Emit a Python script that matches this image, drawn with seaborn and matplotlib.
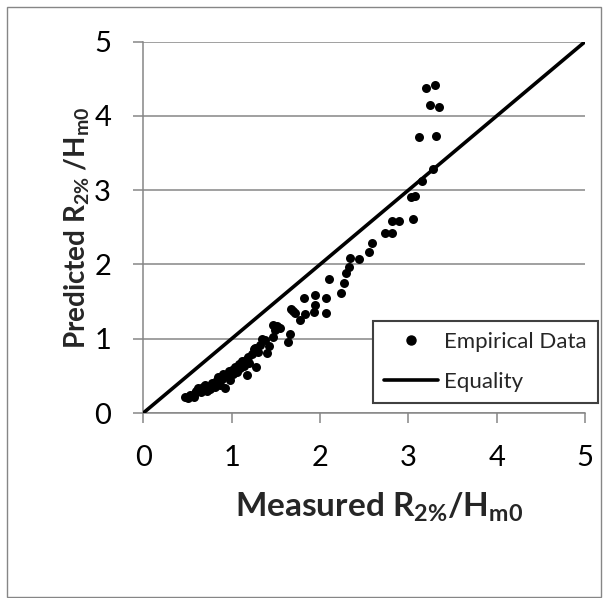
import matplotlib
matplotlib.use("Agg")
import matplotlib.pyplot as plt
import pandas as pd
import seaborn as sns
from matplotlib.lines import Line2D
from matplotlib.patches import Rectangle

# Measured vs predicted run-up (R2%/Hm0)
measured = [
    0.47, 0.51, 0.53, 0.57, 0.58, 0.60, 0.62, 0.65, 0.68, 0.70,
    0.72, 0.76, 0.78, 0.81, 0.83, 0.85, 0.87, 0.89, 0.90, 0.93,
    0.95, 0.97, 0.98, 1.00, 1.02, 1.04, 1.06, 1.08, 1.10, 1.12,
    1.14, 1.16, 1.17, 1.19, 1.20, 1.23, 1.25, 1.27, 1.28, 1.30,
    1.32, 1.34, 1.38, 1.40, 1.42, 1.47, 1.47, 1.49, 1.51, 1.55,
    1.64, 1.66, 1.67, 1.70, 1.72, 1.77, 1.82, 1.83, 1.93, 1.94,
    1.94, 2.07, 2.07, 2.10, 2.24, 2.27, 2.30, 2.33, 2.34, 2.44,
    2.56, 2.59, 2.74, 2.82, 2.81, 2.90, 3.05, 3.03, 3.07, 3.15,
    3.28, 3.12, 3.31, 3.24, 3.35, 3.20, 3.30,
]
predicted = [
    0.22, 0.20, 0.24, 0.21, 0.27, 0.30, 0.33, 0.28, 0.35, 0.38,
    0.30, 0.32, 0.40, 0.35, 0.44, 0.49, 0.38, 0.46, 0.53, 0.33,
    0.50, 0.56, 0.45, 0.58, 0.52, 0.62, 0.55, 0.66, 0.60, 0.70,
    0.63, 0.72, 0.51, 0.76, 0.68, 0.80, 0.86, 0.88, 0.62, 0.82,
    0.92, 1.00, 0.98, 0.81, 0.90, 1.03, 1.18, 1.12, 1.17, 1.14,
    0.96, 1.06, 1.40, 1.37, 1.35, 1.25, 1.55, 1.33, 1.36, 1.46,
    1.59, 1.35, 1.55, 1.80, 1.61, 1.75, 1.89, 1.97, 2.09, 2.07,
    2.17, 2.29, 2.42, 2.42, 2.59, 2.59, 2.61, 2.91, 2.92, 3.13,
    3.29, 3.72, 3.73, 4.15, 4.12, 4.38, 4.42,
]
equality = [0, 5]
ticks = [0, 1, 2, 3, 4, 5]
series_labels = ["Empirical Data", "Equality"]

sns.set_style("white")
plt.rcParams["font.family"] = ["Lato", "DejaVu Sans"]
plt.rcParams["mathtext.fontset"] = "custom"
plt.rcParams["mathtext.rm"] = "Lato"
plt.rcParams["mathtext.bf"] = "Lato:bold"
plt.rcParams["mathtext.default"] = "regular"

W, H = 609, 598
fig = plt.figure(figsize=(W / 100, H / 100), dpi=100)
fig.patch.set_facecolor("white")

x0, x1, y0, y1 = 143.3, 585.0, 41.7, 413.0
ax = fig.add_axes([x0 / W, 1 - y1 / H, (x1 - x0) / W, (y1 - y0) / H])

grid_col = "#868686"
df = pd.DataFrame({"measured": measured, "predicted": predicted})
sns.scatterplot(data=df, x="measured", y="predicted", ax=ax, color="black",
                s=42, linewidth=0, zorder=3, legend=False)
sns.lineplot(x=equality, y=equality, ax=ax, color="black", lw=2.6,
             zorder=4, legend=False)

ax.set_xlim(0, 5)
ax.set_ylim(0, 5)
ax.set_xticks(ticks)
ax.set_yticks(ticks)
ax.set_xticklabels([str(t) for t in ticks])
ax.set_yticklabels([str(t) for t in ticks])
ax.yaxis.grid(True, color=grid_col, lw=1.1)
ax.xaxis.grid(False)
ax.set_axisbelow(True)
for side in ("top", "right"):
    ax.spines[side].set_visible(False)
for side in ("left", "bottom"):
    ax.spines[side].set_color(grid_col)
    ax.spines[side].set_linewidth(1.1)
ax.tick_params(axis="both", which="major", direction="out", length=7.2,
               width=1.1, color=grid_col, labelsize=21, pad=16,
               bottom=True, left=True, labelcolor="black")

ax.set_xlabel(r"Measured R$_{2\%}$/H$_{m0}$", fontsize=24, fontweight="bold")
ax.set_ylabel(r"Predicted R$_{2\%}$ /H$_{m0}$", fontsize=20, fontweight="bold")
ax.xaxis.set_label_coords((379 - x0) / (x1 - x0), (y1 - 491) / (y1 - y0))
ax.yaxis.set_label_coords((92 - x0) / (x1 - x0), 0.5)

handles = [
    Line2D([], [], marker="o", color="black", linestyle="none", markersize=6.5),
    Line2D([], [], color="black", lw=2.6),
]
leg = ax.legend(handles, series_labels, loc="upper right",
                bbox_to_anchor=(598 / W, 1 - 321 / H), bbox_transform=fig.transFigure,
                frameon=True, fancybox=False, framealpha=1, fontsize=16,
                borderpad=0.5, handlelength=2.4, handletextpad=0.3,
                labelspacing=0.88, borderaxespad=0)
leg.get_frame().set_edgecolor("#404040")
leg.get_frame().set_linewidth(1.5)

fig.patches.append(Rectangle((7 / W, 1 / H), 594 / W, 590 / H, transform=fig.transFigure,
                             fill=False, edgecolor=grid_col, lw=1.0))

fig.savefig("out.png", dpi=100, facecolor="white")
